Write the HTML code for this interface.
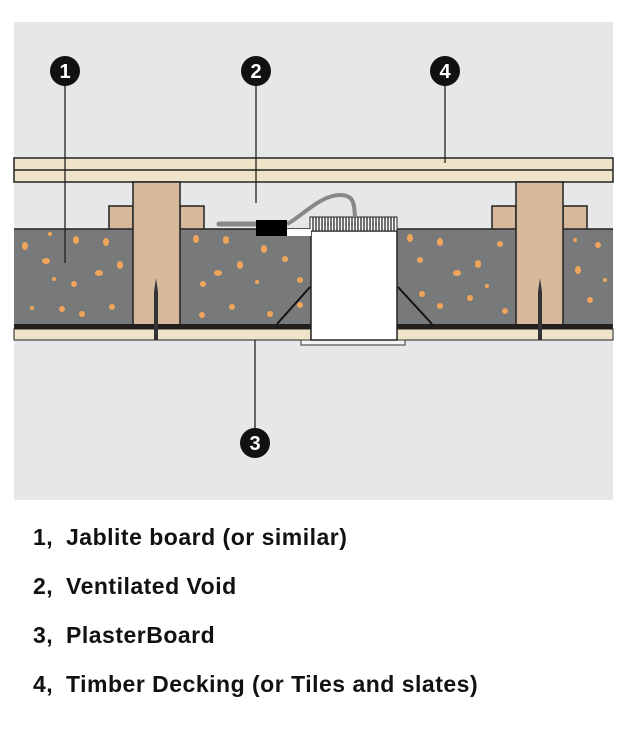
<!DOCTYPE html>
<html><head><style>
body{margin:0;background:#fff;width:631px;height:734px;overflow:hidden}
.t{position:absolute;font-family:"Liberation Sans",sans-serif;font-weight:bold;font-size:23px;letter-spacing:0.5px;color:#111;white-space:nowrap;line-height:26px}
</style></head><body>
<svg width="631" height="734" style="position:absolute;left:0;top:0">
<rect x="14" y="22" width="599" height="478" fill="#e6e7e9"/>
<rect x="14" y="158" width="599" height="24" fill="#efe4c9" stroke="#222" stroke-width="1.5"/>
<line x1="14" y1="170" x2="613" y2="170" stroke="#222" stroke-width="1.5"/>
<g fill="#78797b">
<rect x="14" y="229" width="119" height="95"/>
<rect x="180" y="229" width="131" height="95"/>
<rect x="397" y="229" width="119" height="95"/>
<rect x="563" y="229" width="50" height="95"/>
</g>
<g fill="#f0a55a">
<ellipse cx="25" cy="246" rx="3" ry="4"/><ellipse cx="46" cy="261" rx="4" ry="3"/><ellipse cx="76" cy="240" rx="3" ry="4"/><ellipse cx="106" cy="242" rx="3" ry="4"/><ellipse cx="120" cy="265" rx="3" ry="4"/><ellipse cx="99" cy="273" rx="4" ry="3"/><ellipse cx="74" cy="284" rx="3" ry="3"/><ellipse cx="54" cy="279" rx="2" ry="2"/><ellipse cx="32" cy="308" rx="2" ry="2"/><ellipse cx="62" cy="309" rx="3" ry="3"/><ellipse cx="82" cy="314" rx="3" ry="3"/><ellipse cx="112" cy="307" rx="3" ry="3"/><ellipse cx="50" cy="234" rx="2" ry="2"/>
<ellipse cx="196" cy="239" rx="3" ry="4"/><ellipse cx="226" cy="240" rx="3" ry="4"/><ellipse cx="264" cy="249" rx="3" ry="4"/><ellipse cx="285" cy="259" rx="3" ry="3"/><ellipse cx="240" cy="265" rx="3" ry="4"/><ellipse cx="218" cy="273" rx="4" ry="3"/><ellipse cx="203" cy="284" rx="3" ry="3"/><ellipse cx="257" cy="282" rx="2" ry="2"/><ellipse cx="232" cy="307" rx="3" ry="3"/><ellipse cx="202" cy="315" rx="3" ry="3"/><ellipse cx="270" cy="314" rx="3" ry="3"/><ellipse cx="300" cy="305" rx="3" ry="3"/><ellipse cx="300" cy="280" rx="3" ry="3"/>
<ellipse cx="410" cy="238" rx="3" ry="4"/><ellipse cx="440" cy="242" rx="3" ry="4"/><ellipse cx="478" cy="264" rx="3" ry="4"/><ellipse cx="457" cy="273" rx="4" ry="3"/><ellipse cx="420" cy="260" rx="3" ry="3"/><ellipse cx="500" cy="244" rx="3" ry="3"/><ellipse cx="422" cy="294" rx="3" ry="3"/><ellipse cx="440" cy="306" rx="3" ry="3"/><ellipse cx="470" cy="298" rx="3" ry="3"/><ellipse cx="505" cy="311" rx="3" ry="3"/><ellipse cx="487" cy="286" rx="2" ry="2"/>
<ellipse cx="578" cy="270" rx="3" ry="4"/><ellipse cx="598" cy="245" rx="3" ry="3"/><ellipse cx="590" cy="300" rx="3" ry="3"/><ellipse cx="605" cy="280" rx="2" ry="2"/><ellipse cx="575" cy="240" rx="2" ry="2"/>
</g>
<g fill="#d5b99a" stroke="#222" stroke-width="1.5">
<rect x="109" y="206" width="24" height="23"/><rect x="180" y="206" width="24" height="23"/>
<rect x="133" y="182" width="47" height="143"/>
<rect x="492" y="206" width="24" height="23"/><rect x="563" y="206" width="24" height="23"/>
<rect x="516" y="182" width="47" height="143"/>
</g>
<line x1="14" y1="229" x2="109" y2="229" stroke="#222" stroke-width="1.5"/>
<line x1="204" y1="229" x2="311" y2="229" stroke="#222" stroke-width="1.5"/>
<line x1="397" y1="229" x2="492" y2="229" stroke="#222" stroke-width="1.5"/>
<line x1="587" y1="229" x2="613" y2="229" stroke="#222" stroke-width="1.5"/>
<rect x="14" y="324" width="599" height="5" fill="#231f1d"/>
<rect x="14" y="329" width="599" height="11" fill="#efe4c9" stroke="#222" stroke-width="1"/>
<path d="M156 278 L158 292 L158 340 L154 340 L154 292 Z" fill="#333"/>
<path d="M540 278 L542 292 L542 340 L538 340 L538 292 Z" fill="#333"/>
<rect x="301" y="340" width="104" height="5" fill="#f4f4f4" stroke="#333" stroke-width="1"/>
<line x1="310" y1="287" x2="277" y2="324" stroke="#111" stroke-width="2"/>
<line x1="398" y1="287" x2="432" y2="324" stroke="#111" stroke-width="2"/>
<rect x="311" y="231" width="86" height="109" fill="#fff" stroke="#222" stroke-width="1.5"/>
<rect x="310" y="217" width="87" height="14" fill="#fff" stroke="#222" stroke-width="1"/>
<g stroke="#222" stroke-width="1.3">
<line x1="313" y1="217" x2="313" y2="231"/><line x1="316" y1="217" x2="316" y2="231"/><line x1="319" y1="217" x2="319" y2="231"/><line x1="322" y1="217" x2="322" y2="231"/><line x1="325" y1="217" x2="325" y2="231"/><line x1="328" y1="217" x2="328" y2="231"/><line x1="331" y1="217" x2="331" y2="231"/><line x1="334" y1="217" x2="334" y2="231"/><line x1="337" y1="217" x2="337" y2="231"/><line x1="340" y1="217" x2="340" y2="231"/><line x1="343" y1="217" x2="343" y2="231"/><line x1="346" y1="217" x2="346" y2="231"/><line x1="349" y1="217" x2="349" y2="231"/><line x1="352" y1="217" x2="352" y2="231"/><line x1="355" y1="217" x2="355" y2="231"/><line x1="358" y1="217" x2="358" y2="231"/><line x1="361" y1="217" x2="361" y2="231"/><line x1="364" y1="217" x2="364" y2="231"/><line x1="367" y1="217" x2="367" y2="231"/><line x1="370" y1="217" x2="370" y2="231"/><line x1="373" y1="217" x2="373" y2="231"/><line x1="376" y1="217" x2="376" y2="231"/><line x1="379" y1="217" x2="379" y2="231"/><line x1="382" y1="217" x2="382" y2="231"/><line x1="385" y1="217" x2="385" y2="231"/><line x1="388" y1="217" x2="388" y2="231"/><line x1="391" y1="217" x2="391" y2="231"/><line x1="394" y1="217" x2="394" y2="231"/>
</g>
<rect x="287" y="229" width="24" height="7" fill="#fff"/>
<line x1="219" y1="224" x2="257" y2="224" stroke="#888" stroke-width="5" stroke-linecap="round"/>
<path d="M287 224 C300 218 320 195 340 195 C355 195 354 205 355 217" fill="none" stroke="#888" stroke-width="4"/>
<rect x="256" y="220" width="31" height="16" fill="#000"/>
<g stroke="#222" stroke-width="1.3">
<line x1="65" y1="80" x2="65" y2="263"/>
<line x1="256" y1="80" x2="256" y2="203"/>
<line x1="445" y1="80" x2="445" y2="163"/>
<line x1="255" y1="340" x2="255" y2="432"/>
</g>
<g font-family="Liberation Sans,sans-serif" font-weight="bold" font-size="20" fill="#fff" text-anchor="middle">
<circle cx="65" cy="71" r="15" fill="#111"/><text x="65" y="78">1</text>
<circle cx="256" cy="71" r="15" fill="#111"/><text x="256" y="78">2</text>
<circle cx="445" cy="71" r="15" fill="#111"/><text x="445" y="78">4</text>
<circle cx="255" cy="443" r="15" fill="#111"/><text x="255" y="450">3</text>
</g>
</svg>
<div class="t" style="left:33px;top:524px">1,</div><div class="t" style="left:66px;top:524px">Jablite board (or similar)</div>
<div class="t" style="left:33px;top:573px">2,</div><div class="t" style="left:66px;top:573px">Ventilated Void</div>
<div class="t" style="left:33px;top:622px">3,</div><div class="t" style="left:66px;top:622px">PlasterBoard</div>
<div class="t" style="left:33px;top:671px">4,</div><div class="t" style="left:66px;top:671px">Timber Decking (or Tiles and slates)</div>
</body></html>
